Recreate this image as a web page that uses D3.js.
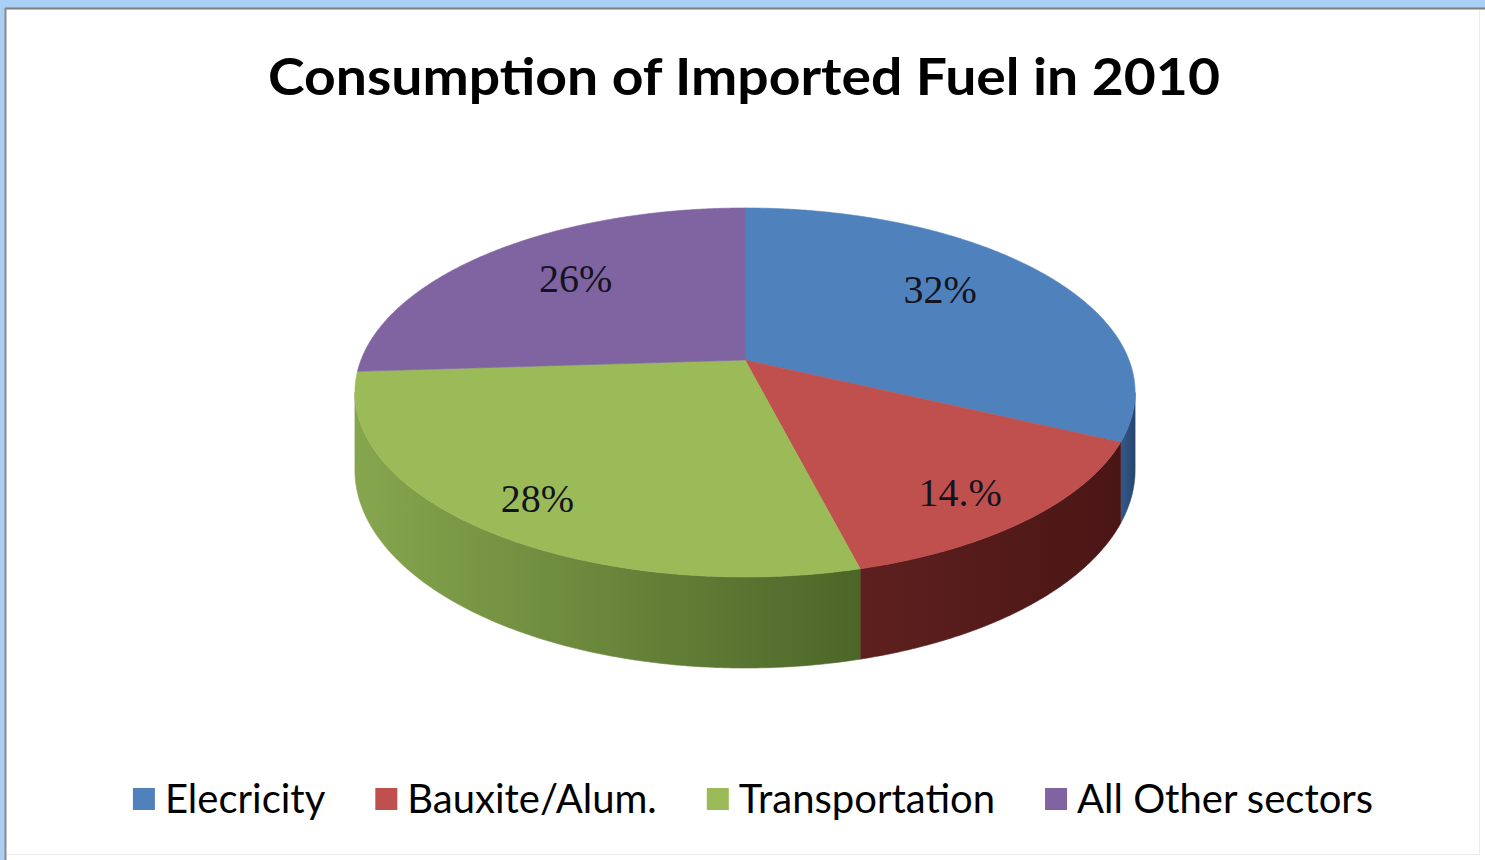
<!DOCTYPE html>
<html>
<head>
<meta charset="utf-8">
<script src="https://cdn.jsdelivr.net/npm/d3@7"></script>
<style>
  html, body { margin: 0; padding: 0; background: #a9cff5; }
  svg { display: block; }
</style>
</head>
<body>
<svg id="chart" width="1485" height="860"></svg>
<script>
// ---------------- data ----------------
const categories = ["Elecricity", "Bauxite/Alum.", "Transportation", "All Other sectors"];
const values = [32, 14, 28, 26];
const labels = ["32%", "14.%", "28%", "26%"];
const title = "Consumption of Imported Fuel in 2010";

// ---------------- style / layout ----------------
const topColors = ["#4f81bd", "#c0504d", "#9bbb59", "#8064a2"];
const sideColorsL = ["#345a8a", "#5e201f", "#86a64e", "#5a4676"];
const sideColorsR = ["#26456c", "#4a1615", "#4c6628", "#463659"];
const labelRadius = [0.69, 0.82, 0.83, 0.69];
const labelAngleShift = [-5.3, 2.4, -1.0, 2.8];

const W = 1485, H = 860;
const cx = 745, cy = 360;      // pie apex on the top face
const B = 384, A = 178.8;      // horizontal / vertical radii
const k = 0.176;               // perspective strength
const D = 75;                  // pie thickness

const svg = d3.select("#chart");

// frame
svg.append("rect").attr("x", 0).attr("y", 0).attr("width", W).attr("height", H).attr("fill", "#a9cff5");
svg.append("rect").attr("x", 5).attr("y", 8).attr("width", W - 5).attr("height", H - 8).attr("fill", "#ffffff");
svg.append("line").attr("x1", 5).attr("x2", W).attr("y1", 8.5).attr("y2", 8.5).attr("stroke", "#7f7f7f").attr("stroke-width", 2);
svg.append("line").attr("x1", 5.5).attr("x2", 5.5).attr("y1", 8).attr("y2", H).attr("stroke", "#8a8a8a").attr("stroke-width", 2);
svg.append("line").attr("x1", W - 5.5).attr("x2", W - 5.5).attr("y1", 10).attr("y2", H - 6).attr("stroke", "#ececec").attr("stroke-width", 1);
svg.append("line").attr("x1", 7).attr("x2", W - 5).attr("y1", H - 5.5).attr("y2", H - 5.5).attr("stroke", "#ececec").attr("stroke-width", 1);

// title
const titleText = svg.append("text")
  .attr("x", 744).attr("y", 95)
  .attr("text-anchor", "middle")
  .style("font-family", "Lato, 'Noto Sans', sans-serif")
  .style("font-weight", "bold")
  .style("font-size", "51px")
  .attr("fill", "#000")
  .text(title);
{
  const w = titleText.node().getComputedTextLength();
  if (Math.abs(w - 952) > 10) titleText.attr("textLength", 952).attr("lengthAdjust", "spacingAndGlyphs");
}

// projection of a point on the unit disk (angle clockwise from 12 o'clock)
function proj(theta, r = 1, drop = 0) {
  const u = r * Math.sin(theta), v = -r * Math.cos(theta);
  const s = 1 / (1 - k * v);
  return [cx + B * u * s, cy + A * v * s + drop * s];
}
function arcPoints(a0, a1, drop) {
  const n = Math.max(2, Math.ceil(Math.abs(a1 - a0) / (Math.PI / 360)));
  return d3.range(n + 1).map(i => proj(a0 + (a1 - a0) * i / n, 1, drop));
}

const pie = d3.pie().sort(null).value(d => d)
  .startAngle(0).endAngle(2 * Math.PI);
const arcs = pie(values);
const line = d3.line();

const defs = svg.append("defs");
const gSide = svg.append("g");
const gTop = svg.append("g");
const gLab = svg.append("g");

// visible (front-facing) part of the rim: between the two silhouette angles
const rimStart = Math.acos(-k);
const rimEnd = 2 * Math.PI - Math.acos(-k);

arcs.forEach((a, i) => {
  const s0 = Math.max(a.startAngle, rimStart);
  const s1 = Math.min(a.endAngle, rimEnd);
  if (s1 <= s0) return;
  const topPts = arcPoints(s0, s1, 0);
  const botPts = arcPoints(s1, s0, D);
  const pts = topPts.concat(botPts);
  const xs = pts.map(p => p[0]);
  const gid = "side" + i;
  const grad = defs.append("linearGradient").attr("id", gid)
    .attr("gradientUnits", "userSpaceOnUse")
    .attr("x1", d3.min(xs)).attr("x2", d3.max(xs)).attr("y1", 0).attr("y2", 0);
  grad.append("stop").attr("offset", "0%").attr("stop-color", sideColorsL[i]);
  grad.append("stop").attr("offset", "100%").attr("stop-color", sideColorsR[i]);
  gSide.append("path")
    .attr("d", line(pts) + "Z")
    .attr("fill", `url(#${gid})`)
    .attr("stroke", `url(#${gid})`).attr("stroke-width", 0.6);
});

// top faces
arcs.forEach((a, i) => {
  const pts = [[cx, cy]].concat(arcPoints(a.startAngle, a.endAngle, 0));
  gTop.append("path")
    .attr("d", line(pts) + "Z")
    .attr("fill", topColors[i])
    .attr("stroke", topColors[i]).attr("stroke-width", 0.6);
});

// data labels
arcs.forEach((a, i) => {
  const mid = (a.startAngle + a.endAngle) / 2 + labelAngleShift[i] * Math.PI / 180;
  const p = proj(mid, labelRadius[i], 0);
  gLab.append("text")
    .attr("x", p[0]).attr("y", p[1])
    .attr("dy", "0.34em")
    .attr("text-anchor", "middle")
    .style("font-family", "'Liberation Serif', serif")
    .style("font-size", "40px")
    .attr("fill", "#141420")
    .text(labels[i]);
});

// legend
const legend = svg.append("g");
const sq = 22, gapText = 10, gapItem = 50;
const items = categories.map((c, i) => {
  const g = legend.append("g");
  g.append("rect").attr("width", sq).attr("height", sq).attr("y", -sq / 2).attr("fill", topColors[i]);
  const t = g.append("text").attr("x", sq + gapText).attr("y", 14)
    .style("font-family", "Lato, 'Noto Sans', sans-serif")
    .style("font-size", "40px")
    .attr("fill", "#000")
    .text(c);
  return { g, w: sq + gapText + t.node().getComputedTextLength() };
});
const total = d3.sum(items, d => d.w) + gapItem * (items.length - 1);
let x0 = 753 - total / 2;
items.forEach(it => {
  it.g.attr("transform", `translate(${x0},799)`);
  x0 += it.w + gapItem;
});
</script>
</body>
</html>
